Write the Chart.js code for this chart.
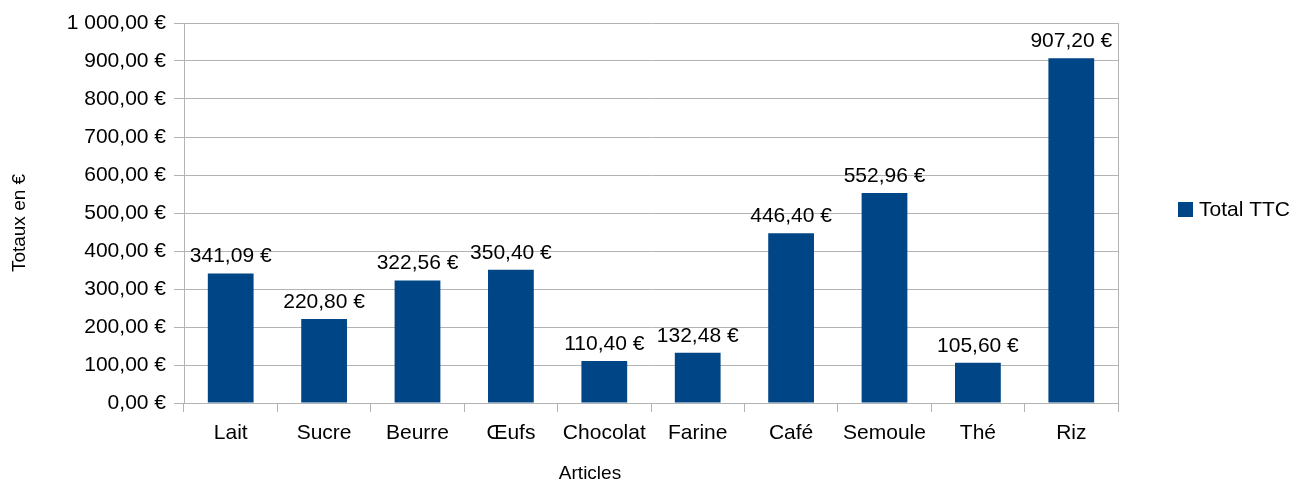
<!DOCTYPE html>
<html>
<head>
<meta charset="utf-8">
<script src="https://cdn.jsdelivr.net/npm/chart.js@4/dist/chart.umd.min.js"></script>
<style>
  html, body { margin: 0; padding: 0; background: #fff; }
  #wrap { width: 1308px; height: 485px; }
</style>
</head>
<body>
<div id="wrap"><canvas id="myChart" width="1308" height="485"></canvas></div>
<script>
// data
const articles = ["Lait", "Sucre", "Beurre", "Œufs", "Chocolat", "Farine", "Café", "Semoule", "Thé", "Riz"];
const totalTTC = [341.09, 220.80, 322.56, 350.40, 110.40, 132.48, 446.40, 552.96, 105.60, 907.20];
const seriesName = "Total TTC";
const xTitle = "Articles";
const yTitle = "Totaux en €";

const FONT = "'Liberation Sans', Arial, sans-serif";
const BAR = "#004586";
const GRID = "#b3b3b3";

function euro(v) {
  let s = Number(v).toFixed(2).split(".");
  let int = s[0].replace(/\B(?=(\d{3})+(?!\d))/g, " ");
  return int + "," + s[1] + " €";
}

// value labels above bars, axis titles, legend
const extras = {
  id: "extras",
  afterDatasetsDraw(chart) {
    const ctx = chart.ctx;
    ctx.save();
    ctx.fillStyle = "#000";
    ctx.font = "21px " + FONT;
    ctx.textAlign = "center";
    ctx.textBaseline = "alphabetic";
    chart.getDatasetMeta(0).data.forEach((bar, i) => {
      ctx.fillText(euro(totalTTC[i]), bar.x, bar.y - 11);
    });

    // axis titles
    ctx.font = "19px " + FONT;
    ctx.textBaseline = "middle";
    ctx.fillText(xTitle, 590, 474);
    ctx.translate(20, 223);
    ctx.rotate(-Math.PI / 2);
    ctx.fillText(yTitle, 0, 0);
    ctx.setTransform(1, 0, 0, 1, 0, 0);

    // legend
    ctx.fillStyle = BAR;
    ctx.fillRect(1178, 202, 15, 15);
    ctx.fillStyle = "#000";
    ctx.font = "21px " + FONT;
    ctx.textAlign = "left";
    ctx.fillText(seriesName, 1199, 210);
    ctx.restore();
  }
};

const ctx = document.getElementById("myChart").getContext("2d");
new Chart(ctx, {
  type: "bar",
  data: {
    labels: articles,
    datasets: [{
      label: seriesName,
      data: totalTTC,
      backgroundColor: BAR,
      borderWidth: 0,
      barPercentage: 0.49,
      categoryPercentage: 1
    }]
  },
  options: {
    responsive: false,
    animation: false,
    devicePixelRatio: 1,
    layout: { padding: { left: 0, right: 190, top: 23, bottom: 0 } },
    plugins: {
      legend: { display: false },
      tooltip: { enabled: false },
      title: { display: false }
    },
    scales: {
      x: {
        offset: true,
        grid: {
          offset: true,
          color: c => c.type === "scale" ? GRID : "rgba(0,0,0,0)",
          tickColor: GRID,
          tickLength: 9,
          lineWidth: 1
        },
        border: { color: GRID },
        ticks: {
          color: "#000",
          font: { family: FONT, size: 21 },
          padding: 9,
          maxRotation: 0,
          autoSkip: false
        },
        afterFit(scale) { scale.height = 82; }
      },
      y: {
        min: 0,
        max: 1000,
        grid: { color: GRID, tickColor: GRID, tickLength: 10, lineWidth: 1 },
        border: { color: GRID },
        ticks: {
          stepSize: 100,
          color: "#000",
          font: { family: FONT, size: 21 },
          padding: 8,
          callback: v => euro(v)
        },
        afterFit(scale) { scale.width = 184; }
      }
    }
  },
  plugins: [extras]
});
</script>
</body>
</html>
